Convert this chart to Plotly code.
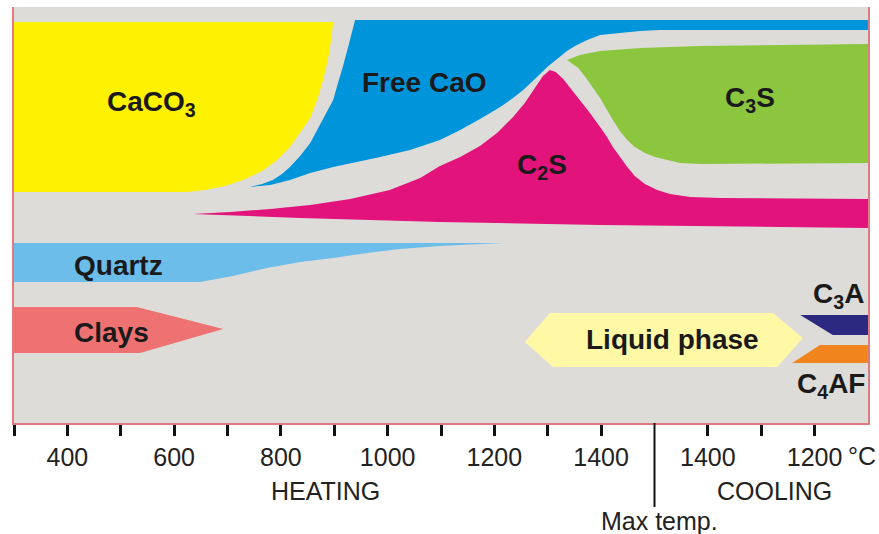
import plotly.graph_objects as go

# x: temperature-position scale (300..1500 heating, 1500 = max temp, 1600..1900 = cooling 1400..1100)
# y: schematic relative amount (0 bottom .. 416 top)

CACO3_X = [300, 898, 894, 888, 879, 868, 855, 836, 817, 793, 765, 729, 695, 658, 624, 300]
CACO3_Y = [401, 401, 383, 363, 343, 323, 305, 290, 276, 263, 252, 243, 237, 233, 231, 231]

CAO_X = [742, 765, 785, 802, 817, 836, 855, 870, 883, 898, 907, 916, 928, 939,
         1900, 1900,
         1510, 1473, 1435, 1398, 1374, 1351, 1336, 1317, 1299, 1276, 1254, 1235, 1211,
         1173, 1136, 1098, 1042, 986, 939, 898, 855, 817, 780, 742]
CAO_Y = [236, 239, 243, 249, 256, 267, 280, 295, 309, 323, 340, 356, 380, 403,
         403, 393,
         393, 392, 390, 388, 383, 377, 372, 364, 356, 344, 333, 325, 316,
         304, 293, 283, 273, 266, 261, 256, 250, 243, 238, 236]

C2S_X = [635, 705, 780, 855, 930, 1004, 1061, 1098, 1136, 1173, 1205, 1235, 1257, 1276, 1291,
         1304, 1315, 1329, 1344, 1360, 1379, 1398, 1411, 1422, 1435, 1449, 1463, 1482, 1505,
         1529, 1567, 1623, 1900, 1900, 1735, 1398, 1098, 836, 635]
C2S_Y = [209, 211, 214, 218, 224, 233, 245, 257, 266, 277, 290, 306, 320, 335, 347,
         353, 351, 344, 334, 323, 310, 296, 286, 276, 266, 256, 247, 239, 233,
         229, 226, 225, 224, 195, 196, 198, 201, 205, 209]

C3S_X = [1336, 1360, 1398, 1473, 1585, 1900, 1900, 1585, 1548, 1523, 1501, 1482, 1463, 1449,
         1435, 1422, 1411, 1398, 1385, 1372, 1357, 1342, 1336]
C3S_Y = [363, 368, 372, 375, 377, 379, 260, 259, 260, 263, 266, 270, 276, 283,
         292, 303, 313, 325, 335, 345, 355, 361, 363]

QUARTZ_X = [300, 1220, 1154, 1098, 1023, 961, 898, 836, 774, 710, 649, 300]
QUARTZ_Y = [180, 180, 178.5, 177, 174, 170, 165, 161, 155, 147, 141, 141]

CLAYS_X = [300, 530, 692, 536, 300]
CLAYS_Y = [116, 116, 94, 70, 70]

LIQUID_X = [1257, 1304, 1722, 1778, 1730, 1310, 1257]
LIQUID_Y = [81, 110, 110, 85, 56, 56, 81]

C3A_X = [1773, 1900, 1900, 1834, 1773]
C3A_Y = [108, 108, 88, 88, 108]

C4AF_X = [1810, 1900, 1900, 1758, 1810]
C4AF_Y = [78, 78, 60, 60, 78]

TICK_VALS = [300, 400, 500, 600, 700, 800, 900, 1000, 1100, 1200, 1300, 1400, 1600, 1700, 1800]
TICK_TEXT = ["", "400", "", "600", "", "800", "", "1000", "", "1200", "", "1400", "1400", "", "1200"]
MAX_TEMP = 1500

LABELS = [
    ("CaCO<sub>3</sub>", 558, 320),
    ("Free CaO", 1070, 341),
    ("C<sub>3</sub>S", 1679, 324),
    ("C<sub>2</sub>S", 1289, 257),
    ("Quartz", 495, 158),
    ("Clays", 482, 91),
    ("Liquid phase", 1533, 84),
    ("C<sub>3</sub>A", 1844, 128),
    ("C<sub>4</sub>AF", 1831, 38),
]

phases = [
    (CACO3_X, CACO3_Y, "#fff200"),
    (CAO_X, CAO_Y, "#0095da"),
    (C2S_X, C2S_Y, "#e2137b"),
    (C3S_X, C3S_Y, "#8cc63e"),
    (QUARTZ_X, QUARTZ_Y, "#6cbdea"),
    (CLAYS_X, CLAYS_Y, "#ee7272"),
    (LIQUID_X, LIQUID_Y, "#fff9a6"),
    (C3A_X, C3A_Y, "#2b2a80"),
    (C4AF_X, C4AF_Y, "#f0851d"),
]

fig = go.Figure()
for xs, ys, col in phases:
    fig.add_trace(go.Scatter(x=xs, y=ys, fill="toself", fillcolor=col, mode="lines",
                             line=dict(width=0, color=col),
                             hoverinfo="skip", showlegend=False))

FONT = "Liberation Sans, Arial, sans-serif"
for txt, x, y in LABELS:
    fig.add_annotation(x=x, y=y, text="<b>%s</b>" % txt, showarrow=False,
                       font=dict(family=FONT, size=28, color="#1a1a1a"))

fig.add_annotation(x=1888, y=0, yref="paper", yanchor="top", yshift=-17, text="°C",
                   showarrow=False, font=dict(family=FONT, size=25, color="#222222"))
fig.add_annotation(x=883, y=0, yref="paper", yanchor="middle", yshift=-68, text="HEATING",
                   showarrow=False, font=dict(family=FONT, size=25, color="#222222"))
fig.add_annotation(x=1724, y=0, yref="paper", yanchor="middle", yshift=-68, text="COOLING",
                   showarrow=False, font=dict(family=FONT, size=25, color="#222222"))
fig.add_annotation(x=MAX_TEMP + 10, y=0, yref="paper", yanchor="middle", yshift=-98, text="Max temp.",
                   showarrow=False, font=dict(family=FONT, size=25, color="#222222"))

fig.add_shape(type="line", xref="x", yref="paper", x0=MAX_TEMP, x1=MAX_TEMP, y0=0,
              y1=-84 / 416, line=dict(color="#111111", width=2))

fig.update_layout(
    width=879, height=534,
    margin=dict(l=14, r=11, t=7, b=111),
    paper_bgcolor="white", plot_bgcolor="#dddcd8",
    xaxis=dict(range=[300, 1900], tickvals=TICK_VALS, ticktext=TICK_TEXT, ticks="outside",
               ticklen=11, tickwidth=2.5, tickcolor="#111111", showgrid=False, zeroline=False,
               showline=True, linecolor="#e07a7e", linewidth=2,
               tickfont=dict(family=FONT, size=25, color="#222222")),
    yaxis=dict(range=[0, 416], showticklabels=False, ticks="", showgrid=False, zeroline=False,
               showline=True, linecolor="#e07a7e", linewidth=2, mirror=True),
)

fig.write_html("out.html", config={"displayModeBar": False},
               post_script="document.body.style.margin='0';document.body.style.overflow='hidden';")
